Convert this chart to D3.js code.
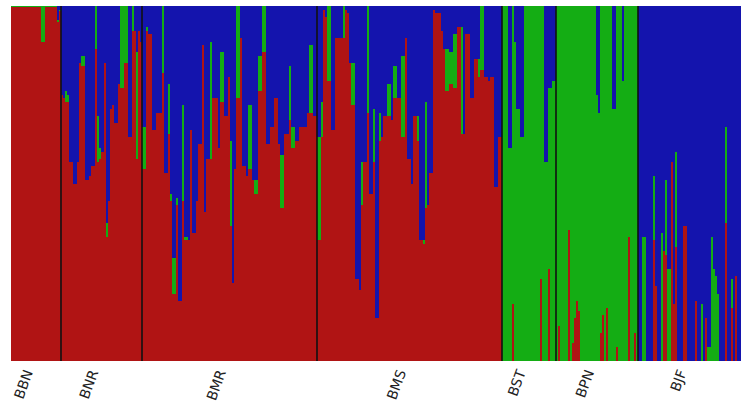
<!DOCTYPE html>
<html>
<head>
<meta charset="utf-8">
<script src="https://cdn.jsdelivr.net/npm/d3@7"></script>
<style>
  body { margin: 0; background: #fff; }
  svg { display: block; }
</style>
</head>
<body>
<svg id="chart" width="749" height="416"></svg>
<script>
// Ancestry proportions (%) per individual, ordered [red, green, blue]
const qBBN = [
  [99.6,0.4,0],[99.6,0.4,0],[99.6,0.4,0],[99.6,0.4,0],[99.6,0.4,0],[99.6,0.4,0],[99.6,0.4,0],[99.6,0.4,0],[99.6,0.4,0],[99.6,0.4,0],
  [99.6,0.4,0],[99.6,0.4,0],[99.6,0.4,0],[99.6,0.4,0],[99.6,0.4,0],[90,10,0],[90,10,0],[99.6,0.4,0],[99.6,0.4,0],[99.6,0.4,0],
  [99.6,0.4,0],[99.6,0.4,0],[99.6,0.4,0],[95.6,0.4,4],[98.6,0.4,1]
];
const qBNR = [
  [75,0,25],[74,0,26],[73,3,24],[73,2,25],[56,0,44],[56,0,44],[50,0,50],[50,0,50],[56,0,44],[84,0,16],
  [83,3,14],[83,3,14],[51,0,49],[51,0,49],[52,0,48],[55,0,45],[55,0,45],[88,12,0],[56,13,31],[57,3,40],
  [59,0,41],[84,0,16],[35,4,61],[45,0,55],[71,0,29],[72,0,28],[67,0,33],[67,0,33],[78,0,22],[77,23,0],
  [77,23,0],[84,16,0],[84,16,0],[63,0,37],[63,0,37],[93,7,0],[93,0,7],[57,30,13],[93,0,7],[90,0,10]
];
const qBMR = [
  [54,12,34],[54,12,34],[93,1,6],[92,0,8],[92,0,8],[65,0,35],[65,0,35],[70,0,30],[70,0,30],[70,0,30],
  [81,19,0],[53,0,47],[53,0,47],[64,14,22],[45,2,53],[19,10,71],[19,10,71],[44,2,54],[17,0,83],[17,0,83],
  [45,27,28],[34,1,65],[34,1,65],[34,0,66],[65,0,35],[36,0,64],[36,0,64],[45,0,55],[61,0,39],[61,0,39],
  [89,0,11],[42,0,58],[57,0,43],[57,0,43],[57,33,10],[74,0,26],[74,0,26],[74,0,26],[60,0,40],[73,14,13],
  [73,14,13],[69,0,31],[69,0,31],[80,0,20],[38,24,38],[22,0,78],[54,0,46],[74,26,0],[74,26,0],[91,0,9],
  [55,0,45],[55,0,45],[52,0,48],[54,18,28],[54,18,28],[51,0,49],[47,4,49],[47,4,49],[76,10,14],[76,10,14],
  [87,13,0],[87,13,0],[61,0,39],[61,0,39],[66,0,34],[66,0,34],[74,0,26],[74,0,26],[61,0,39],[43,15,42],
  [43,15,42],[64,0,36],[64,0,36],[68,15,17],[60,6,34],[60,6,34],[62,0,38],[62,0,38],[66,0,34],[66,0,34],
  [66,0,34],[66,0,34],[70,0,30],[70,19,11],[70,19,11],[69,0,31],[69,0,31]
];
const qBMS = [
  [34,29,37],[34,29,37],[63,10,27],[99,0,1],[97,0,3],[79,21,0],[79,21,0],[65,0,35],[65,0,35],[91,0,9],
  [91,0,9],[91,0,9],[91,0,9],[91,9,0],[99,0,1],[98,0,2],[84,0,16],[72,12,16],[72,12,16],[23,0,77],
  [23,0,77],[20,0,80],[44,12,44],[56,0,44],[56,0,44],[70,30,0],[47,0,53],[47,0,53],[56,15,29],[12,0,88],
  [12,0,88],[62,8,30],[63,0,37],[69,0,31],[69,0,31],[69,9,22],[69,9,22],[68,0,32],[74,9,17],[74,9,17],
  [74,0,26],[74,0,26],[63,23,14],[63,23,14],[91,0,9],[57,0,43],[57,0,43],[50,0,50],[69,0,31],[69,0,31],
  [62,7,31],[34,0,66],[34,0,66],[33,1,66],[43,30,27],[44,0,56],[53,0,47],[53,0,47],[99,0,1],[98,0,2],
  [98,0,2],[98,0,2],[93,0,7],[88,0,12],[76,12,12],[76,12,12],[78,9,13],[78,9,13],[77,15,8],[77,15,8],
  [94,0,6],[94,0,6],[64,30,6],[64,0,36],[92,0,8],[92,0,8],[74,0,26],[74,0,26],[85,0,15],[85,0,15],
  [80,5,15],[82,18,0],[82,18,0],[80,0,20],[80,0,20],[79,0,21],[80,0,20],[80,0,20],[49,0,51],[49,0,51],
  [63,0,37],[63,0,37]
];
const qBST = [
  [0,100,0],[0,100,0],[0,100,0],[0,60,40],[0,60,40],[16,84,0],[0,90,10],[0,71,29],[0,71,29],[0,63,37],
  [0,63,37],[0,100,0],[0,100,0],[0,100,0],[0,100,0],[0,100,0],[0,100,0],[0,100,0],[0,100,0],[23,77,0],
  [0,100,0],[0,56,44],[0,56,44],[26,51,23],[0,77,23],[0,79,21],[0,79,21]
];
const qBPN = [
  [0,100,0],[10,90,0],[0,100,0],[0,100,0],[0,100,0],[0,100,0],[37,63,0],[0,100,0],[5,95,0],[12,88,0],
  [17,83,0],[14,86,0],[0,100,0],[0,100,0],[0,100,0],[0,100,0],[0,100,0],[0,100,0],[0,100,0],[0,100,0],
  [0,75,25],[0,70,30],[8,92,0],[13,87,0],[0,100,0],[15,85,0],[0,100,0],[0,100,0],[0,71,29],[0,71,29],
  [4,96,0],[0,100,0],[0,100,0],[0,79,21],[0,100,0],[0,100,0],[35,65,0],[0,100,0],[0,100,0],[8,92,0],
  [0,100,0]
];
const qBJF = [
  [0,0,100],[0,0,100],[0,35,65],[0,35,65],[0,0,100],[0,0,100],[0,0,100],[34,18,48],[21,0,79],[0,0,100],
  [0,0,100],[0,36,64],[31,0,69],[30,21,49],[0,26,74],[0,26,74],[56,0,44],[16,0,84],[32,27,41],[0,0,100],
  [0,0,100],[0,0,100],[38,0,62],[38,0,62],[0,0,100],[0,0,100],[0,0,100],[0,0,100],[17,0,83],[0,0,100],
  [0,0,100],[0,16,84],[0,0,100],[12,0,88],[0,4,96],[0,4,96],[0,35,65],[0,26,74],[0,24,76],[0,19,81],
  [0,0,100],[0,0,100],[0,0,100],[39,27,34],[0,0,100],[0,0,100],[15,8,77],[0,0,100],[24,0,76],[0,0,100],
  [0,0,100]
];

const popNames = ["BBN", "BNR", "BMR", "BMS", "BST", "BPN", "BJF"];
const popData = [qBBN, qBNR, qBMR, qBMS, qBST, qBPN, qBJF];
const clusterKeys = ["red", "green", "blue"];
const clusterColors = ["#b01414", "#14ad14", "#1414ad"];

// One row per individual, proportions rescaled so each bar fills the column
const rows = [];
const popFirst = [];
popNames.forEach((name, p) => {
  popFirst.push(rows.length);
  popData[p].forEach(q => {
    const total = q[0] + q[1] + q[2];
    rows.push({
      id: rows.length,
      pop: name,
      red: q[0] / total * 100,
      green: q[1] / total * 100,
      blue: q[2] / total * 100
    });
  });
});

const svg = d3.select("#chart");
const plotLeft = 11, plotRight = 741, plotTop = 6, plotBottom = 361;

const x = d3.scaleBand()
  .domain(rows.map(d => d.id))
  .range([plotLeft, plotRight])
  .paddingInner(0)
  .paddingOuter(0);

const y = d3.scaleLinear().domain([0, 100]).range([plotBottom, plotTop]);

const color = d3.scaleOrdinal().domain(clusterKeys).range(clusterColors);

const series = d3.stack().keys(clusterKeys)(rows);

// Snap each column to whole pixels so neighbouring bars meet without seams
const colLeft = id => Math.round(x(id));
const colRight = id => Math.round(x(id) + x.bandwidth());

svg.append("g")
  .attr("shape-rendering", "crispEdges")
  .selectAll("g")
  .data(series)
  .join("g")
  .attr("fill", d => color(d.key))
  .selectAll("rect")
  .data(d => d)
  .join("rect")
  .attr("x", d => colLeft(d.data.id))
  .attr("width", d => colRight(d.data.id) - colLeft(d.data.id))
  .attr("y", d => y(d[1]))
  .attr("height", d => Math.max(0, y(d[0]) - y(d[1])));

// Population boundaries
svg.append("g")
  .selectAll("line")
  .data(popFirst.slice(1))
  .join("line")
  .attr("x1", d => colLeft(d))
  .attr("x2", d => colLeft(d))
  .attr("y1", plotTop)
  .attr("y2", plotBottom)
  .attr("stroke", "#111")
  .attr("stroke-width", 1.6);

// Population labels, centred under each group and tilted
const popCenters = popNames.map((name, p) => {
  const first = popFirst[p];
  const last = first + popData[p].length - 1;
  return { name, cx: (x(first) + x(last) + x.bandwidth()) / 2 };
});

svg.append("g")
  .selectAll("text")
  .data(popCenters)
  .join("text")
  .attr("transform", d => `translate(${d.cx - 3},372) rotate(-70)`)
  .attr("text-anchor", "end")
  .attr("font-family", "DejaVu Sans, sans-serif")
  .attr("font-size", 14)
  .attr("fill", "#222")
  .text(d => d.name);
</script>
</body>
</html>
